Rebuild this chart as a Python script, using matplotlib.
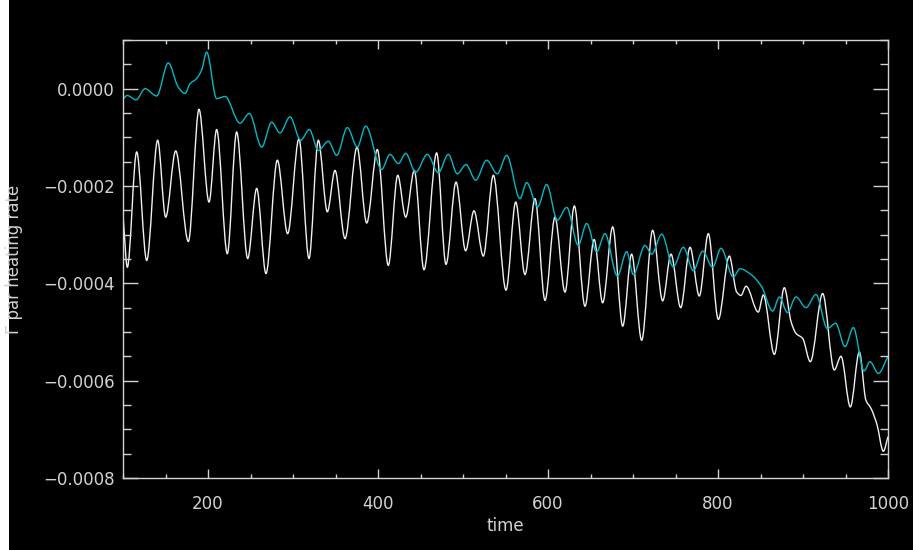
import matplotlib
matplotlib.use('Agg')
import matplotlib.pyplot as plt
from matplotlib.patches import Rectangle, PathPatch
from matplotlib.path import Path
from matplotlib.ticker import MultipleLocator, FuncFormatter

# cyan curve (time, value*1e6)
cyan_t = [100.4, 105, 115.3, 125.9, 139.6, 153.3, 165, 172.9, 178.8, 186.7, 192.5, 198.4,
          210.2, 220, 237.6, 248.6, 263.2, 274.9, 284.7, 296.5, 309, 319.2, 329.8, 341.6,
          351.4, 363.9, 375.7, 385.5, 404.3, 414.1, 423.9, 432.6, 444.3, 458, 471, 482.7,
          493.3, 503.5, 514.9, 527.8, 540.4, 551.4, 567, 574.9, 587.9, 598.4, 611, 622,
          635.6, 645.5, 657.3, 667, 681.6, 692.6, 700.4, 714.1, 722, 733.8, 747.4, 759.2,
          771, 782, 793.7, 803.5, 818, 825.9, 839.6, 851.4, 864.3, 872.2, 881.6, 891.8,
          903.5, 915.3, 928.6, 938.4, 949.4, 959.2, 971.8, 978.8, 988.6, 1000]
cyan_v = [-20.5, -14, -23, 0, -15, 53, 3, -10, 10, 21, 38, 75,
          -20.5, -16, -71, -51, -120, -69, -91, -58, -106, -84, -127, -108,
          -137, -80, -120, -77, -166, -135, -154, -133, -172, -135, -173, -135,
          -175, -156, -188, -147, -175, -137, -226, -193, -243, -197, -270, -244,
          -322, -277, -335, -298, -385, -335, -382, -322, -340, -299, -366, -326,
          -374, -334, -367, -328, -387, -370, -383, -407, -457, -428, -460, -428,
          -450, -423, -493, -482, -530, -491, -580, -561, -585, -550]

# white curve (time, value*1e6)
white_t = [100.4, 105.1, 116.1, 127.9, 140.8, 150.2, 162, 176.9, 189.4, 201.2, 210.2,
           222.7, 233.7, 246.7, 257.3, 268.2, 281.6, 293.7, 307, 318.8, 329.8, 340.4,
           349.4, 361.2, 375.3, 386.7, 399.2, 412.1, 423.2, 432.6, 442.7, 454.1, 469,
           480, 491.8, 503.1, 512.9, 523.9, 535.7, 550.6, 562, 572.9, 584.7, 596.5,
           608.2, 620, 631, 643.5, 654.3, 664.3, 676.1, 687.9, 698.4, 710.2, 723.1,
           734.9, 744.7, 756.1, 767.1, 778, 788.6, 800.4, 813.3, 822, 827, 833, 847.4,
           853.3, 866.3, 878, 886, 891.8, 899.6, 908.6, 923.1, 936.8, 944.7, 955.7,
           966.3, 974, 980, 987, 994.5, 1000]
white_v = [-270, -367, -130, -353, -106, -264, -128, -314, -42.5, -233, -84,
           -339, -89, -349, -205, -380, -147, -298, -103, -349, -106, -253,
           -168, -308, -120, -276, -125, -363, -178, -264, -168, -372, -132,
           -361, -192, -333, -251, -344, -178, -414, -233, -382, -226, -435,
           -264, -418, -241, -447, -310, -440, -284, -488, -340, -517, -291,
           -436, -340, -450, -326, -426, -298, -474, -344, -418, -425, -406, -459,
           -424, -546, -409, -479, -503, -513, -561, -421, -578, -550, -654,
           -541, -640, -657, -690, -745, -715]


def smooth_line(xs, ys):
    # monotone cubic drawn as bezier segments through the read points
    n = len(xs)
    h = [xs[i + 1] - xs[i] for i in range(n - 1)]
    d = [(ys[i + 1] - ys[i]) / h[i] for i in range(n - 1)]
    m = [0.0] * n
    m[0], m[-1] = d[0], d[-1]
    for i in range(1, n - 1):
        if d[i - 1] * d[i] > 0:
            m[i] = 3 * (h[i - 1] + h[i]) / ((2 * h[i] + h[i - 1]) / d[i - 1] + (h[i] + 2 * h[i - 1]) / d[i])
    verts = [(xs[0], ys[0])]
    codes = [Path.MOVETO]
    for i in range(n - 1):
        k = h[i] / 3
        verts += [(xs[i] + k, ys[i] + m[i] * k), (xs[i + 1] - k, ys[i + 1] - m[i + 1] * k),
                  (xs[i + 1], ys[i + 1])]
        codes += [Path.CURVE4] * 3
    return Path(verts, codes)


fg = '#d2d2d2'
plt.rcParams['font.family'] = ['DejaVu Sans']

fig = plt.figure(figsize=(9.13, 5.5), dpi=100)
fig.patch.set_facecolor('white')
fig.patches.append(Rectangle((8.5 / 913, 0), 1, 1, transform=fig.transFigure,
                             facecolor='black', edgecolor='none', zorder=-10))

ax = fig.add_axes([123 / 913, 72 / 550, 765 / 913, 438 / 550])
ax.set_facecolor('black')

ax.add_patch(PathPatch(smooth_line(white_t, [v * 1e-6 for v in white_v]),
                       facecolor='none', edgecolor='#f0f0f0', lw=1.0))
ax.add_patch(PathPatch(smooth_line(cyan_t, [v * 1e-6 for v in cyan_v]),
                       facecolor='none', edgecolor='#00b9c6', lw=1.0))

ax.set_xlim(100, 1000)
ax.set_ylim(-0.0008, 0.0001)
ax.xaxis.set_major_locator(MultipleLocator(200))
ax.xaxis.set_minor_locator(MultipleLocator(50))
ax.yaxis.set_major_locator(MultipleLocator(0.0002))
ax.yaxis.set_minor_locator(MultipleLocator(0.00005))
ax.yaxis.set_major_formatter(FuncFormatter(lambda v, p: ('%.4f' % v).replace('-', '\u2212')))
ax.xaxis.set_major_formatter(FuncFormatter(lambda v, p: '' if v < 150 else '%d' % v))

for s in ax.spines.values():
    s.set_color(fg)
    s.set_linewidth(1.0)
ax.tick_params(axis='both', which='both', direction='in', colors=fg, top=True, right=True,
               labelsize=12, width=1.0)
ax.tick_params(axis='x', which='major', length=6.3, pad=12)
ax.tick_params(axis='x', which='minor', length=3.2)
ax.tick_params(axis='y', which='major', length=11, pad=5.8)
ax.tick_params(axis='y', which='minor', length=5.5)

ax.set_xlabel('time', color=fg, fontsize=12)
ax.set_ylabel('\u0393 par heating rate', color=fg, fontsize=12)
ax.xaxis.set_label_coords(0.5, -0.089)
ax.yaxis.set_label_coords(-0.131, 0.5)

fig.savefig('out.png', dpi=100, facecolor=fig.get_facecolor())
